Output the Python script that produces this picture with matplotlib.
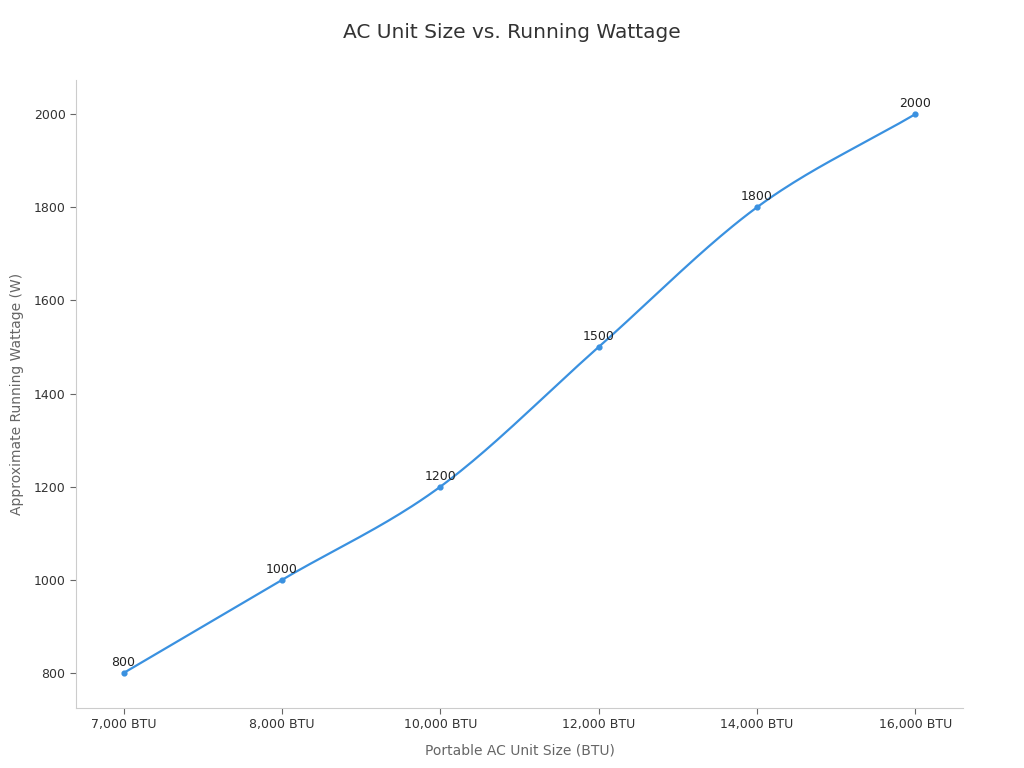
import numpy as np
import matplotlib.pyplot as plt

sizes = ["7,000 BTU", "8,000 BTU", "10,000 BTU", "12,000 BTU", "14,000 BTU", "16,000 BTU"]
watts = [800, 1000, 1200, 1500, 1800, 2000]

line_color = "#3a91e0"

x = np.arange(len(sizes))
y = np.array(watts, dtype=float)

# smooth curve through the points (catmull-rom)
px = np.concatenate([[2 * x[0] - x[1]], x, [2 * x[-1] - x[-2]]]).astype(float)
py = np.concatenate([[2 * y[0] - y[1]], y, [2 * y[-1] - y[-2]]])
sx, sy = [], []
t = np.linspace(0, 1, 40)
for i in range(1, len(px) - 2):
    for arr, out in ((px, sx), (py, sy)):
        p0, p1, p2, p3 = arr[i - 1], arr[i], arr[i + 1], arr[i + 2]
        out.extend(0.5 * (2 * p1 + (-p0 + p2) * t
                          + (2 * p0 - 5 * p1 + 4 * p2 - p3) * t ** 2
                          + (-p0 + 3 * p1 - 3 * p2 + p3) * t ** 3))

fig = plt.figure(figsize=(10.24, 7.68), dpi=100)
ax = fig.add_axes([76 / 1024, 60 / 768, 887 / 1024, 628 / 768])

ax.plot(sx, sy, color=line_color, linewidth=1.6)
ax.scatter(x, y, color=line_color, s=12, zorder=3)
for xi, yi in zip(x, watts):
    ax.annotate(str(yi), (xi, yi), xytext=(0, 3), textcoords="offset points",
                ha="center", va="bottom", fontsize=9, color="#222222")

ax.set_xlim(-0.3, len(sizes) - 0.7)
ax.set_ylim(725, 2073)
ax.set_xticks(x)
ax.set_xticklabels(sizes)
ax.set_yticks([800, 1000, 1200, 1400, 1600, 1800, 2000])

for s in ("top", "right"):
    ax.spines[s].set_visible(False)
for s in ("left", "bottom"):
    ax.spines[s].set_color("#cccccc")
ax.tick_params(colors="#666666", labelcolor="#333333", labelsize=9, length=4)

ax.set_xlabel("Portable AC Unit Size (BTU)", fontsize=10, color="#666666", labelpad=9)
ax.set_ylabel("Approximate Running Wattage (W)", fontsize=10, color="#666666", labelpad=7)
fig.suptitle("AC Unit Size vs. Running Wattage", fontsize=14.5, color="#333333", y=0.97)

fig.savefig("out.png", dpi=100)
